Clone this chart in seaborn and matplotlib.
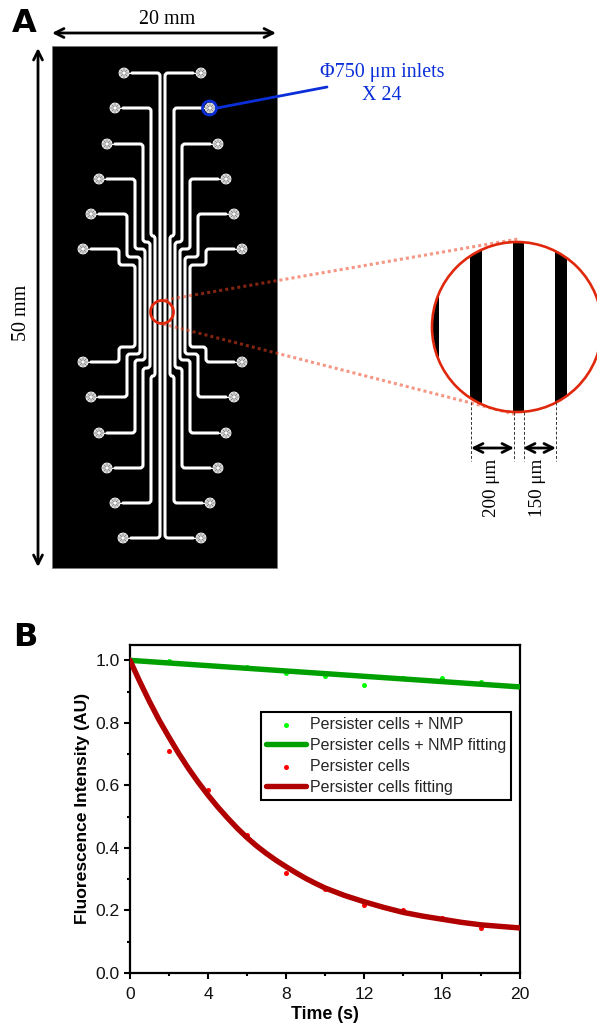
import numpy as np
import matplotlib
matplotlib.use('Agg')
import matplotlib.pyplot as plt
from matplotlib.patches import Circle, PathPatch, Rectangle
from matplotlib.path import Path
from matplotlib.ticker import MultipleLocator
import seaborn as sns

# panel B values
time_points = [0, 2, 4, 6, 8, 10, 12, 14, 16, 18, 20]
nmp_points = [1.0, 0.999, 0.985, 0.98, 0.959, 0.95, 0.921, 0.945, 0.945, 0.932, 0.915]
cell_points = [1.0, 0.709, 0.585, 0.441, 0.321, 0.268, 0.217, 0.2, 0.177, 0.145, 0.151]

nmp_fit_time = [0, 4, 8, 12, 16, 20]
nmp_fit = [1.0, 0.983, 0.966, 0.949, 0.932, 0.915]
cell_fit_time = [0, 0.5, 1, 1.5, 2, 2.5, 3, 3.5, 4, 4.5, 5, 5.5, 6, 6.5, 7, 7.5, 8, 8.5, 9, 9.5, 10,
                 11, 12, 13, 14, 15, 16, 17, 18, 19, 20]
cell_fit = [1.0, 0.932, 0.868, 0.808, 0.754, 0.702, 0.654, 0.61, 0.569, 0.531, 0.496, 0.463, 0.433,
            0.406, 0.382, 0.36, 0.34, 0.321, 0.303, 0.287, 0.272, 0.248, 0.228, 0.21, 0.194, 0.182,
            0.172, 0.162, 0.154, 0.149, 0.144]

x_ticks = [0, 4, 8, 12, 16, 20]
y_ticks = [0.0, 0.2, 0.4, 0.6, 0.8, 1.0]

# panel A channels, in pixels of the picture
pair_y_top = [73, 108, 144, 179, 214, 249]
pair_y_bot = [538, 503, 468, 433, 397, 362]
inlet_left_top = [124, 115, 107, 99, 91, 83]
inlet_right_top = [201, 210, 218, 226, 234, 242]
inlet_left_bot = [123, 115, 107, 99, 91, 83]
inlet_right_bot = [201, 210, 218, 226, 234, 242]
outer_left = [160, 151, 143, 135, 127, 119]
outer_right = [165, 174, 182, 190, 198, 206]
inner_left = [160, 155, 150, 145, 140, 135]
inner_right = [165, 170, 175, 180, 185, 190]
jog_top = [None, 236, 242, 249, 257, 265]
jog_bot = [None, 376, 368, 360, 354, 347]
stripes = [(432, 439), (470, 481.5), (513, 524), (555.3, 567)]

sns.set_theme(style='ticks')
plt.rcParams['font.family'] = ['Liberation Sans', 'DejaVu Sans']
SERIF = ['Liberation Serif', 'DejaVu Serif']

W, H = 597, 1026
fig = plt.figure(figsize=(W / 100, H / 100), dpi=100, facecolor='white')

# ---- panel B ----
ax = fig.add_axes([130 / W, (H - 973) / H, 390 / W, 328.3 / H])
sns.scatterplot(x=time_points, y=nmp_points, ax=ax, color='#00ff00', s=13, linewidth=0,
                label='Persister cells + NMP', zorder=2)
sns.lineplot(x=nmp_fit_time, y=nmp_fit, ax=ax, color='#00a000', linewidth=3.9,
             label='Persister cells + NMP fitting', zorder=3)
sns.scatterplot(x=time_points, y=cell_points, ax=ax, color='#ff0000', s=13, linewidth=0,
                label='Persister cells', zorder=2)
sns.lineplot(x=cell_fit_time, y=cell_fit, ax=ax, color='#b00000', linewidth=3.9,
             label='Persister cells fitting', zorder=3)

ax.set_xlim(0, 20)
ax.set_ylim(0, 1.05)
ax.set_xticks(x_ticks)
ax.set_yticks(y_ticks)
ax.set_yticklabels([f'{v:.1f}' for v in y_ticks])
ax.xaxis.set_minor_locator(MultipleLocator(2))
ax.yaxis.set_minor_locator(MultipleLocator(0.1))
ax.tick_params(which='major', direction='out', length=4.5, width=1.5, labelsize=12.6,
               color='black', labelcolor='#111111', pad=3)
ax.tick_params(axis='x', which='major', pad=5.5)
ax.tick_params(which='minor', direction='out', length=2.5, width=1.5, color='black')
for s in ax.spines.values():
    s.set_visible(True)
    s.set_linewidth(1.6)
    s.set_color('black')
ax.set_xlabel('Time (s)', fontsize=12.8, fontweight='bold', labelpad=3, color='black')
ax.set_ylabel('Fluorescence Intensity (AU)', fontsize=12.6, fontweight='bold', labelpad=4, color='black')

leg = ax.legend(loc='upper left', bbox_to_anchor=(131 / 390, (973 - 712) / 328.3), fontsize=11.5,
                fancybox=False, framealpha=1, edgecolor='black', handlelength=2.5,
                handletextpad=0.25, labelspacing=0.38, borderpad=0.3, borderaxespad=0, markerscale=1)
leg.get_frame().set_linewidth(1.5)

# ---- panel A, whole figure in pixel coordinates ----
pa = fig.add_axes([0, 0, 1, 1])
pa.set_xlim(0, W)
pa.set_ylim(H, 0)
pa.axis('off')
pa.patch.set_alpha(0)

pa.add_patch(Rectangle((52, 46), 225, 522, facecolor='black', edgecolor='#777777', linewidth=0.5, zorder=1))


def rounded_path(points, r=3.0):
    verts = [points[0]]
    codes = [Path.MOVETO]
    for i in range(1, len(points) - 1):
        p = np.array(points[i], float)
        a = np.array(points[i - 1], float)
        b = np.array(points[i + 1], float)
        ra = min(r, np.linalg.norm(a - p) / 2)
        rb = min(r, np.linalg.norm(b - p) / 2)
        p1 = p + (a - p) / np.linalg.norm(a - p) * ra
        p2 = p + (b - p) / np.linalg.norm(b - p) * rb
        verts += [p1, p, p2]
        codes += [Path.LINETO, Path.CURVE3, Path.CURVE3]
    verts.append(points[-1])
    codes.append(Path.LINETO)
    return Path(verts, codes)


def channel(x_start, y_top, outer, inner, jt, jb, y_bot, x_end):
    if jt is None:
        pts = [(x_start, y_top), (outer, y_top), (outer, y_bot), (x_end, y_bot)]
    else:
        pts = [(x_start, y_top), (outer, y_top), (outer, jt), (inner, jt), (inner, jb),
               (outer, jb), (outer, y_bot), (x_end, y_bot)]
    pa.add_patch(PathPatch(rounded_path(pts), facecolor='none', edgecolor='white',
                           linewidth=2.2, capstyle='round', zorder=2))


def inlet(x, y):
    pa.add_patch(Circle((x, y), 5, facecolor='#d4d4d4', edgecolor='white', linewidth=0.6, zorder=3))
    for ang in np.arange(0, 180, 45):
        dx, dy = 4.8 * np.cos(np.deg2rad(ang)), 4.8 * np.sin(np.deg2rad(ang))
        pa.plot([x - dx, x + dx], [y - dy, y + dy], color='#555555', linewidth=0.35, zorder=4)
    pa.add_patch(Circle((x, y), 1.5, facecolor='white', edgecolor='none', zorder=5))


for i in range(len(pair_y_top)):
    channel(inlet_left_top[i] + 8, pair_y_top[i], outer_left[i], inner_left[i], jog_top[i], jog_bot[i],
            pair_y_bot[i], inlet_left_bot[i] + 8)
    channel(inlet_right_top[i] - 8, pair_y_top[i], outer_right[i], inner_right[i], jog_top[i], jog_bot[i],
            pair_y_bot[i], inlet_right_bot[i] - 8)
    for xx, yy, sgn in [(inlet_left_top[i], pair_y_top[i], 1), (inlet_right_top[i], pair_y_top[i], -1),
                        (inlet_left_bot[i], pair_y_bot[i], 1), (inlet_right_bot[i], pair_y_bot[i], -1)]:
        pa.plot([xx, xx + sgn * 9], [yy, yy], color='white', linewidth=0.8, zorder=2)
        inlet(xx, yy)

# blue callout
BLUE = '#0a2fd8'
pa.add_patch(Circle((209.5, 108), 7, facecolor='none', edgecolor=BLUE, linewidth=2, zorder=6))
pa.plot([217, 327], [108, 87], color=BLUE, linewidth=2, zorder=6)
pa.text(382, 73, '\u03a6750 \u03bcm inlets', color=BLUE, fontsize=14.4, family=SERIF, ha='center', va='center')
pa.text(382, 96, 'X 24', color=BLUE, fontsize=14.4, family=SERIF, ha='center', va='center')

# zoom lines and lens
pa.plot([165, 518], [300, 239], color='#f04020', alpha=0.55, linewidth=2.2, linestyle=(0, (1, 1)), zorder=7)
pa.plot([163, 518], [324, 415], color='#f04020', alpha=0.55, linewidth=2.2, linestyle=(0, (1, 1)), zorder=7)

RED = '#e0280c'
pa.add_patch(Circle((162, 312), 11.5, facecolor='none', edgecolor=RED, linewidth=2, zorder=8))

lens = Circle((517, 327), 85, facecolor='white', edgecolor='none', zorder=8)
pa.add_patch(lens)
for left, right in stripes:
    st = pa.axvspan(left, right, facecolor='black', edgecolor='none', zorder=9)
    st.set_clip_path(lens)
pa.add_patch(Circle((517, 327), 85, facecolor='none', edgecolor=RED, linewidth=1.9, zorder=10))

# dimension arrows
def dim_arrow(x0, y0, x1, y1, lw=2.0, ms=16):
    pa.annotate('', xy=(x1, y1), xytext=(x0, y0),
                arrowprops=dict(arrowstyle='<->', color='black', lw=lw, mutation_scale=ms,
                                shrinkA=0, shrinkB=0))


dim_arrow(52, 33, 276, 33)
dim_arrow(38, 48, 38, 567)
dim_arrow(471, 448, 514, 448)
dim_arrow(523, 448, 556, 448)

for xd, y0 in [(471, 402), (514, 412), (523.7, 412), (556, 402)]:
    pa.plot([xd, xd], [y0, 461], color='#333333', linewidth=0.7, linestyle=(0, (3, 2)), zorder=11)

pa.text(167, 19, '20 mm', fontsize=14.4, family=SERIF, ha='center', va='center', color='black')
pa.text(22, 313, '50 mm', fontsize=14.4, family=SERIF, ha='center', va='center', rotation=90, color='black')
pa.text(491, 488, '200 \u03bcm', fontsize=13.8, family=SERIF, ha='center', va='center', rotation=90, color='black')
pa.text(538, 488, '150 \u03bcm', fontsize=13.8, family=SERIF, ha='center', va='center', rotation=90, color='black')

pa.text(24.5, 23, 'A', fontsize=23, fontweight='bold', ha='center', va='center', color='black',
        family=['DejaVu Sans'])
pa.text(25.5, 637, 'B', fontsize=23, fontweight='bold', ha='center', va='center', color='black',
        family=['DejaVu Sans'])

fig.savefig('out.png', dpi=100)
